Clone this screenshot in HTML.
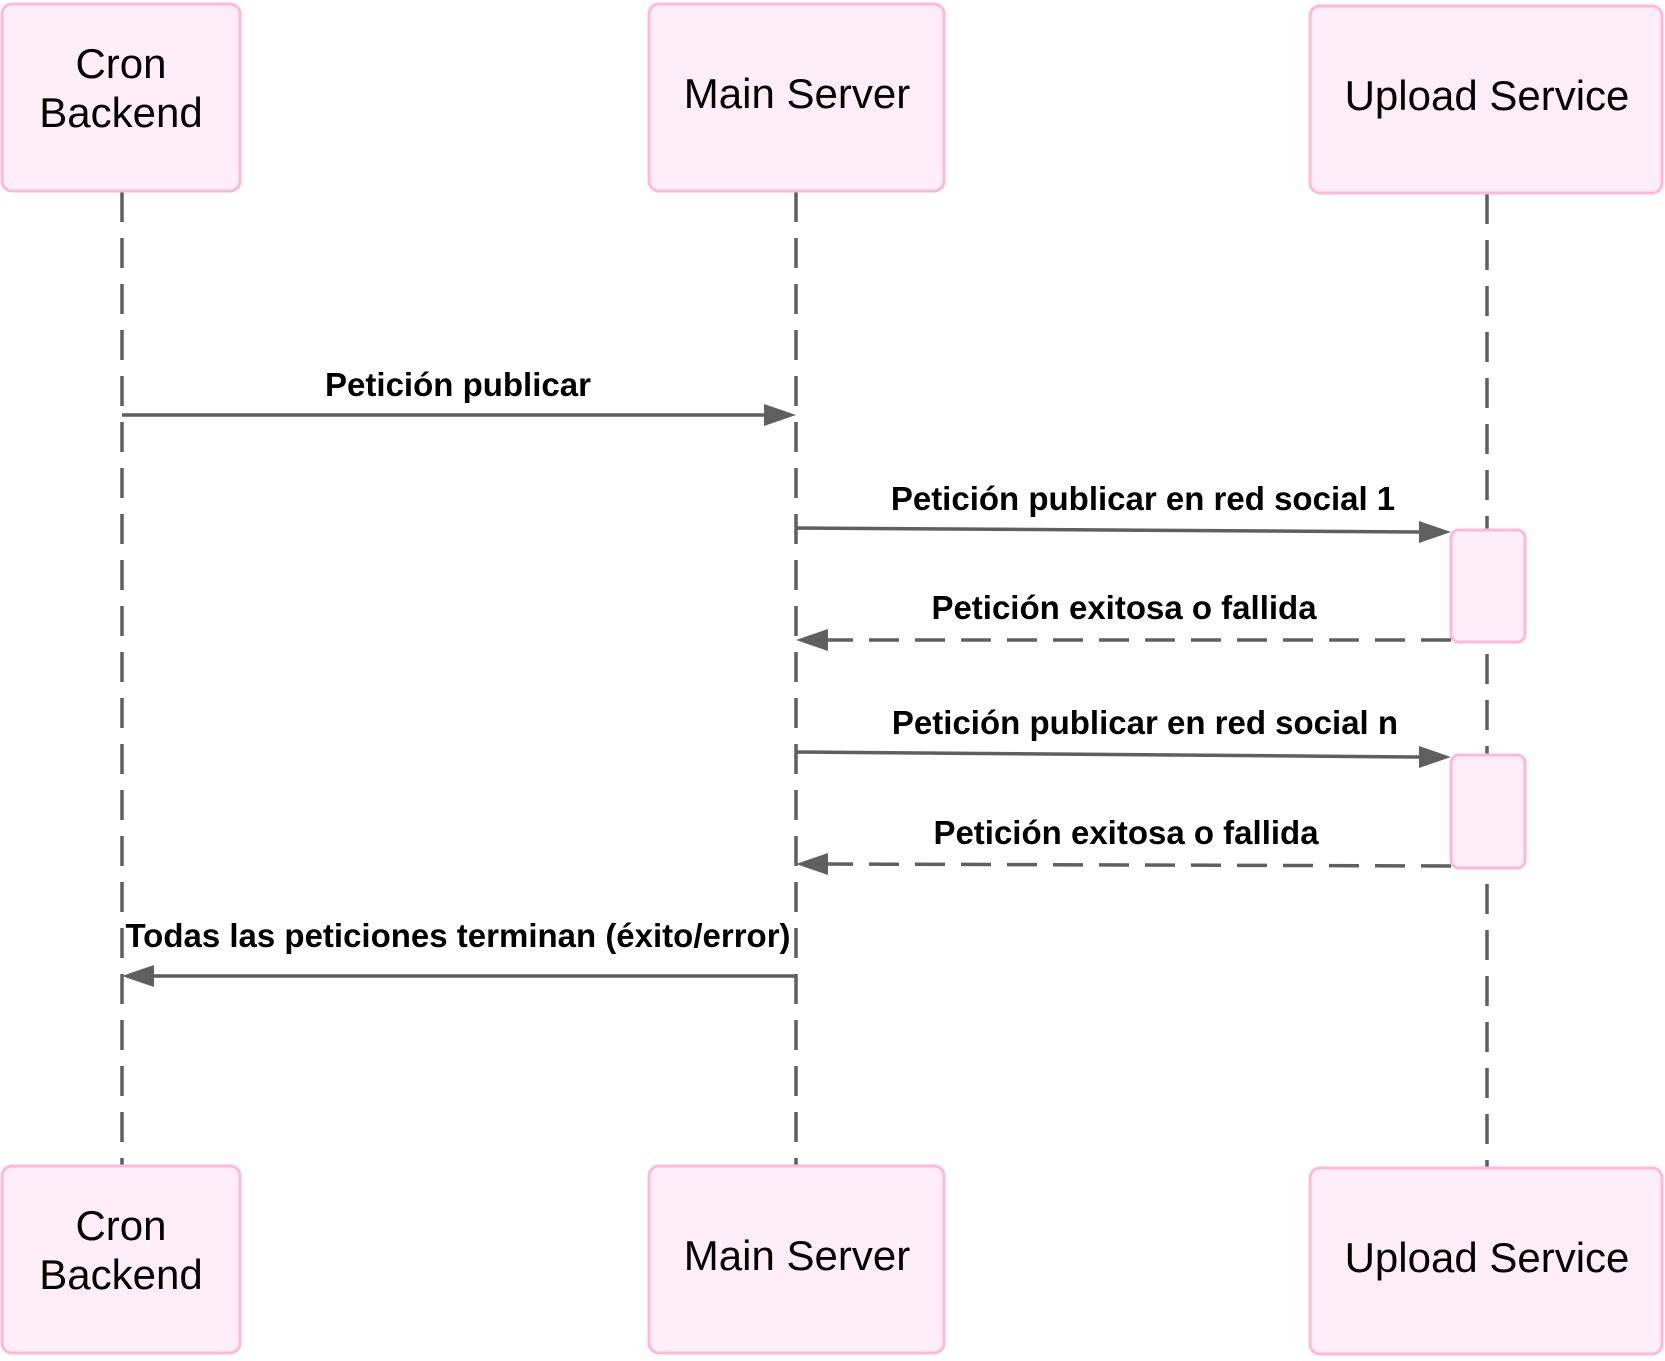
<!DOCTYPE html>
<html><head><meta charset="utf-8"><style>body{margin:0;background:#fff}</style></head><body>
<svg width="1665" height="1356" viewBox="0 0 1665 1356" xmlns="http://www.w3.org/2000/svg" font-family="Liberation Sans, sans-serif">
<g stroke="#5f5f5f" stroke-width="3.5" stroke-dasharray="30,16" fill="none">
<line x1="122" y1="192" x2="122" y2="1166"/>
<line x1="796" y1="192" x2="796" y2="1166"/>
<line x1="1487" y1="194" x2="1487" y2="1168"/>
</g>
<g fill="#ffeef8" stroke="#ffb9d6" stroke-width="3">
<rect x="2" y="4" width="238" height="187" rx="10"/>
<rect x="649" y="4" width="295" height="187" rx="10"/>
<rect x="1310" y="6" width="352" height="187" rx="10"/>
<rect x="2" y="1166" width="238" height="187" rx="10"/>
<rect x="649" y="1166" width="295" height="187" rx="10"/>
<rect x="1310" y="1168" width="352" height="186" rx="10"/>
<rect x="1451" y="530" width="74" height="112" rx="8"/>
<rect x="1451" y="755" width="74" height="113" rx="8"/>
</g>
<g font-size="42" text-anchor="middle" fill="#000">
<text x="121" y="78">Cron</text><text x="121" y="127">Backend</text>
<text x="797" y="108">Main Server</text>
<text x="1487" y="110">Upload Service</text>
<text x="121" y="1240">Cron</text><text x="121" y="1289">Backend</text>
<text x="797" y="1270">Main Server</text>
<text x="1487" y="1272">Upload Service</text>
</g>
<g stroke="#5f5f5f" stroke-width="3.5" fill="none">
<line x1="122" y1="415" x2="766" y2="415"/>
<line x1="796" y1="528" x2="1420" y2="532"/>
<line x1="1451" y1="640" x2="826" y2="640" stroke-dasharray="30,16"/>
<line x1="796" y1="752" x2="1420" y2="757"/>
<line x1="1451" y1="866" x2="826" y2="864" stroke-dasharray="30,16"/>
<line x1="796" y1="976" x2="152" y2="976"/>
</g>
<g fill="#5f5f5f">
<polygon points="796,415 764,404 764,426"/>
<polygon points="1451,532 1419,521 1419,543"/>
<polygon points="796,640 828,629 828,651"/>
<polygon points="1451,757 1419,746 1419,768"/>
<polygon points="796,864 828,853 828,875"/>
<polygon points="122,976 154,965 154,987"/>
</g>
<g font-size="33" font-weight="bold" text-anchor="middle" fill="#000">
<text x="458" y="396">Petición publicar</text>
<text x="1143" y="510">Petición publicar en red social 1</text>
<text x="1124" y="619">Petición exitosa o fallida</text>
<text x="1145" y="734">Petición publicar en red social n</text>
<text x="1126" y="844">Petición exitosa o fallida</text>
<text x="458" y="947">Todas las peticiones terminan (éxito/error)</text>
</g>
</svg>
</body></html>
